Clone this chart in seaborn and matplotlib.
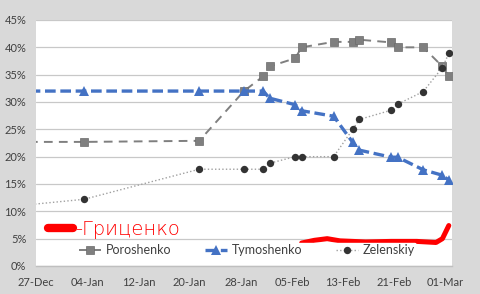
import matplotlib
matplotlib.use("Agg")
import matplotlib.pyplot as plt
import matplotlib.dates as mdates
from matplotlib.lines import Line2D
from matplotlib.ticker import PercentFormatter
import pandas as pd
import seaborn as sns

# ---- data ----
dates = ["2018-12-20", "2019-01-03", "2019-01-21", "2019-01-28", "2019-01-31",
         "2019-02-01", "2019-02-05", "2019-02-06", "2019-02-11", "2019-02-14",
         "2019-02-15", "2019-02-20", "2019-02-21", "2019-02-25", "2019-02-28",
         "2019-03-01"]
poroshenko = [22.7, 22.7, 22.9, 32.0, 34.7, 36.5, 38.0, 40.0, 41.0, 41.0,
              41.4, 40.9, 40.0, 40.0, 36.5, 34.7]
tymoshenko = [32.0, 32.0, 32.0, 32.0, 32.0, 30.7, 29.5, 28.4, 27.4, 22.6,
              21.2, 19.9, 19.9, 17.6, 16.6, 15.7]
zelenskiy = [10.6, 12.2, 17.7, 17.7, 17.7, 18.8, 20.0, 20.0, 20.0, 25.0,
             26.8, 28.5, 29.6, 31.9, 36.3, 38.9]

# hand-drawn red line (Hrytsenko)
hr_dates = ["2019-02-06", "2019-02-08", "2019-02-10", "2019-02-12", "2019-02-16",
            "2019-02-20", "2019-02-24", "2019-02-27", "2019-02-28", "2019-03-01"]
hrytsenko = [4.2, 4.7, 5.0, 4.6, 4.4, 4.5, 4.5, 4.3, 5.0, 7.4]

series_names = ["Poroshenko", "Tymoshenko", "Zelenskiy"]
hr_label = "-Гриценко"
tick_start, tick_end = "2018-12-27", "2019-03-01"

# Excel date axis places points in the middle of each day
half_day = pd.Timedelta(hours=12)
x = pd.to_datetime(dates) + half_day
xh = pd.to_datetime(hr_dates) + half_day
df = pd.DataFrame({"date": x, "Poroshenko": [v / 100 for v in poroshenko],
                   "Tymoshenko": [v / 100 for v in tymoshenko],
                   "Zelenskiy": [v / 100 for v in zelenskiy]})
dfh = pd.DataFrame({"date": xh, "val": [v / 100 for v in hrytsenko]})

sns.set_style("white")
plt.rcParams["font.family"] = ["Lato", "DejaVu Sans"]

fig = plt.figure(figsize=(4.8, 2.94), dpi=100, facecolor="#d9d9d9")
ax = fig.add_axes([36 / 480, 28 / 294, 416 / 480, 246 / 294])
ax.set_facecolor("white")

# gridlines
ax.yaxis.grid(True, color="#c8c8c8", linewidth=0.9)
ax.set_axisbelow(True)

grey = "#7f7f7f"
blue = "#4472c4"
dark = "#333333"

sns.lineplot(data=df, x="date", y="Poroshenko", ax=ax, color=grey, linewidth=1.4,
             marker="s", markersize=6.3, markeredgewidth=0.5, markeredgecolor="#6a6a6a",
             label="Poroshenko")
ax.lines[-1].set_dashes((4.5, 3.2))
sns.lineplot(data=df, x="date", y="Tymoshenko", ax=ax, color=blue, linewidth=2.4,
             marker="^", markersize=6.5, markeredgewidth=0,
             label="Tymoshenko")
ax.lines[-1].set_dashes((3.2, 1.4))
sns.lineplot(data=df, x="date", y="Zelenskiy", ax=ax, color="#a0a0a0", linewidth=1.0,
             marker="o", markersize=5.3, markerfacecolor=dark, markeredgecolor=dark,
             markeredgewidth=0, label="Zelenskiy")
ax.lines[-1].set_dashes((1, 1.6))
sns.lineplot(data=dfh, x="date", y="val", ax=ax, color="#ff0000", linewidth=3.6,
             solid_capstyle="round", solid_joinstyle="round", label="_nolegend_")

# axes
ax.set_ylim(0, 0.45)
ax.set_xlim(pd.Timestamp(tick_start), pd.Timestamp(tick_end) + pd.Timedelta(days=1))
ax.yaxis.set_major_formatter(PercentFormatter(1.0, decimals=0))
ax.set_yticks([i * 0.05 for i in range(10)])
ax.set_xticks(pd.date_range(tick_start, tick_end, freq="8D"))
ax.xaxis.set_major_formatter(mdates.DateFormatter("%d-%b"))
ax.set_xlabel("")
ax.set_ylabel("")
for s in ["top", "right", "left"]:
    ax.spines[s].set_visible(False)
ax.spines["bottom"].set_color("#bfbfbf")
ax.spines["bottom"].set_linewidth(1.0)
ax.tick_params(axis="x", labelsize=8, length=4, width=0.9,
               direction="out", pad=4, color="#bfbfbf", labelcolor="#404040")
ax.tick_params(axis="y", labelsize=8, length=0, pad=7, labelcolor="#404040")

leg = ax.legend(loc="center", bbox_to_anchor=(0.507, 0.065), ncol=3, frameon=True,
                facecolor="white", edgecolor="white", framealpha=1,
                fontsize=9, handlelength=1.8, handletextpad=0.35, columnspacing=2.7,
                borderpad=0.1)
for t in leg.get_texts():
    t.set_color("#404040")
ax.add_artist(leg)

# the red handwritten label with its blob
h = Line2D([], [], color="#ff0000", linewidth=6, solid_capstyle="round")
leg2 = ax.legend([h], [hr_label], loc="center left", bbox_to_anchor=(0.03, 0.15),
                 frameon=False, handlelength=1.25, handletextpad=0.1,
                 borderpad=0, borderaxespad=0,
                 prop={"family": ["DejaVu Sans"], "size": 14, "weight": "light"})
for t in leg2.get_texts():
    t.set_color("#ff0000")

fig.savefig("out.png", dpi=100, facecolor=fig.get_facecolor())
